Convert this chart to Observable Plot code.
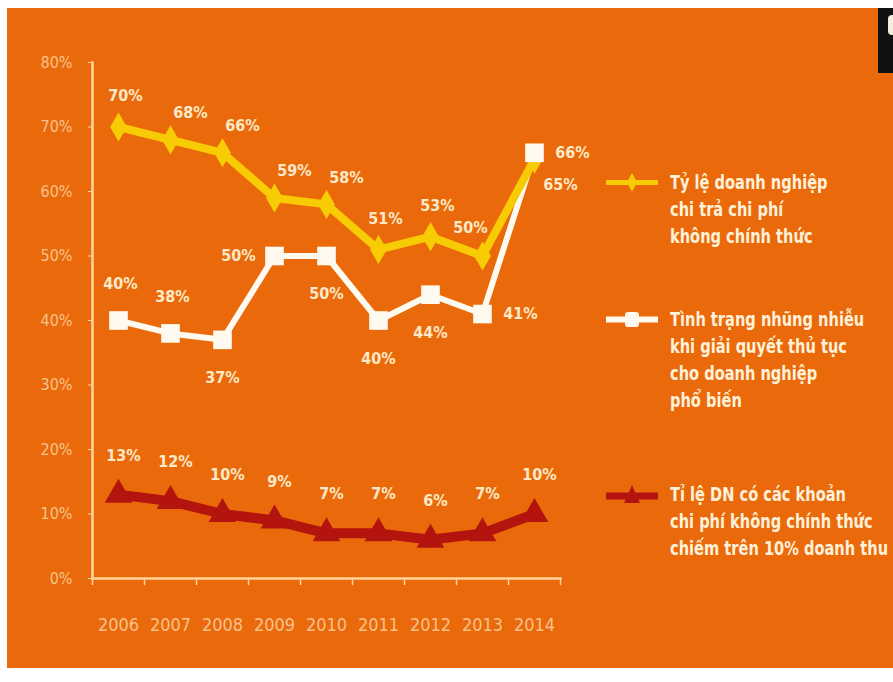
<!DOCTYPE html>
<html>
<head>
<meta charset="utf-8">
<script src="https://cdn.jsdelivr.net/npm/d3@7"></script>
<script src="https://cdn.jsdelivr.net/npm/@observablehq/plot@0.6"></script>
<style>
html,body{margin:0;padding:0;background:#fff;width:893px;height:682px;overflow:hidden}
#panel{position:absolute;left:7px;top:8px;width:886px;height:660px;background:#ea6a0b;overflow:hidden}
#chart{position:absolute;left:0;top:0}
.item{position:absolute;left:599px;}
.item svg{position:absolute;left:0;top:0;overflow:visible}
.item .txt{position:absolute;left:64px;top:0;white-space:nowrap;font-family:"Liberation Sans Narrow","DejaVu Sans Condensed",sans-serif;font-weight:bold;font-size:19px;line-height:27px;color:#fff1da;transform:scaleX(0.855);transform-origin:0 0}
#logo{position:absolute;left:871px;top:0;width:15px;height:65px;background:#111}
#logo div{position:absolute;left:10px;top:7px;width:8px;height:20px;border-radius:4px;background:#f4eee0}
</style>
</head>
<body>
<div id="panel">
  <div id="chart"></div>
  <div id="legend"></div>
  <div id="logo"><div></div></div>
</div>
<script>
// ---- data ----
const years = [2006, 2007, 2008, 2009, 2010, 2011, 2012, 2013, 2014];
const informalPayment = [70, 68, 66, 59, 58, 51, 53, 50, 65];   // yellow
const harassment      = [40, 38, 37, 50, 50, 40, 44, 41, 66];   // white
const over10Revenue   = [13, 12, 10, 9, 7, 7, 6, 7, 10];         // dark red
const yTicks = [0, 10, 20, 30, 40, 50, 60, 70, 80];
const seriesNames = [
  ["Tỷ lệ doanh nghiệp", "chi trả chi phí", "không chính thức"],
  ["Tình trạng nhũng nhiễu", "khi giải quyết thủ tục", "cho doanh nghiệp", "phổ biến"],
  ["Tỉ lệ DN có các khoản", "chi phí không chính thức", "chiếm trên 10% doanh thu"]
];
// label placement (relative to point)
const yellowPlace = ["t", "tr", "tr", "tr", "tr", "t", "t", "tl", "br"];
const whitePlace  = ["t", "t", "b", "l", "b", "b", "b", "r", "r"];
const redPlace    = ["t", "t", "t", "t", "t", "t", "t", "t", "t"];

// ---- styles ----
const YELLOW = "#f7cc04", WHITE = "#fffaf0", RED = "#b3140e";
const AXIS = "#fbd59a", TICKTXT = "#f8c28a", LABEL = "#fde9c8";
const NARROW = "'Liberation Sans Narrow','DejaVu Sans Condensed',sans-serif";

const mk = (vals, place) => years.map((y, i) => ({year: y, value: vals[i], place: place[i]}));
const rowsY = mk(informalPayment, yellowPlace);
const rowsW = mk(harassment, whitePlace);
const rowsR = mk(over10Revenue, redPlace);
const edges = [years[0] - 0.5, ...years.map(y => y + 0.5)];

const offY = {t: [7, -31], tr: [20, -27], tl: [-12, -28], br: [26, 26]};
const offW = {t: [2, -37], b: [0, 38], l: [-36, 0], r: [38, 0]};
const offR = {t: [5, -39]};

function labels(rows, offs) {
  return Object.entries(offs).map(([p, [dx, dy]]) =>
    Plot.text(rows.filter(d => d.place === p), {
      x: "year", y: "value", text: d => d.value + "%", dx, dy,
      fill: LABEL, fontSize: 16, fontWeight: "bold", fontFamily: NARROW
    }));
}

const chart = Plot.plot({
  width: 886, height: 660,
  marginLeft: 85, marginRight: 333, marginTop: 54, marginBottom: 90,
  style: {background: "transparent", fontFamily: NARROW, overflow: "visible"},
  x: {type: "linear", domain: [edges[0], edges[edges.length - 1]]},
  y: {domain: [0, 80]},
  marks: [
    Plot.axisY({ticks: yTicks, tickFormat: d => d + "%", tickSize: 4, tickPadding: 16,
      fill: TICKTXT, stroke: AXIS, fontSize: 16, label: null}),
    Plot.axisX({ticks: years, tickFormat: d => String(d), tickSize: 0, tickPadding: 40,
      fill: TICKTXT, fontSize: 18, label: null}),
    Plot.axisX({ticks: edges, tickFormat: () => "", tickSize: 7, stroke: AXIS, strokeWidth: 1.5, label: null}),
    Plot.frame({anchor: "left", stroke: AXIS, strokeWidth: 2.5}),
    Plot.frame({anchor: "bottom", stroke: AXIS, strokeWidth: 2.5}),
    Plot.line(rowsW, {x: "year", y: "value", stroke: WHITE, strokeWidth: 6}),
    Plot.line(rowsY, {x: "year", y: "value", stroke: YELLOW, strokeWidth: 8}),
    Plot.line(rowsR, {x: "year", y: "value", stroke: RED, strokeWidth: 10}),
    Plot.dot(rowsY, {x: "year", y: "value", symbol: "diamond", r: 7, fill: YELLOW, stroke: YELLOW, strokeWidth: 3}),
    Plot.dot(rowsW, {x: "year", y: "value", symbol: "square", r: 10.5, fill: WHITE}),
    Plot.dot(rowsR, {x: "year", y: "value", symbol: "triangle", r: 9, fill: RED, stroke: RED, strokeWidth: 2}),
    ...labels(rowsY, offY),
    ...labels(rowsW, offW),
    ...labels(rowsR, offR)
  ]
});
document.getElementById("chart").appendChild(chart);

// ---- legend ----
const legTops = [161, 298, 473];
const swatches = [
  `<line x1="0" y1="13.5" x2="52" y2="13.5" stroke="${YELLOW}" stroke-width="5"/><path d="M26,4 L31,13.5 L26,23 L21,13.5Z" fill="${YELLOW}"/>`,
  `<line x1="0" y1="13.5" x2="52" y2="13.5" stroke="${WHITE}" stroke-width="6"/><rect x="19" y="6" width="14" height="15" rx="3" fill="${WHITE}"/>`,
  `<line x1="0" y1="15" x2="52" y2="15" stroke="${RED}" stroke-width="7"/><path d="M26,4 L34,22 L18,22Z" fill="${RED}"/>`
];
const leg = document.getElementById("legend");
seriesNames.forEach((lines, i) => {
  const d = document.createElement("div");
  d.className = "item";
  d.style.top = legTops[i] + "px";
  d.innerHTML = `<svg width="52" height="27">${swatches[i]}</svg><div class="txt">${lines.join("<br>")}</div>`;
  leg.appendChild(d);
});
</script>
</body>
</html>
